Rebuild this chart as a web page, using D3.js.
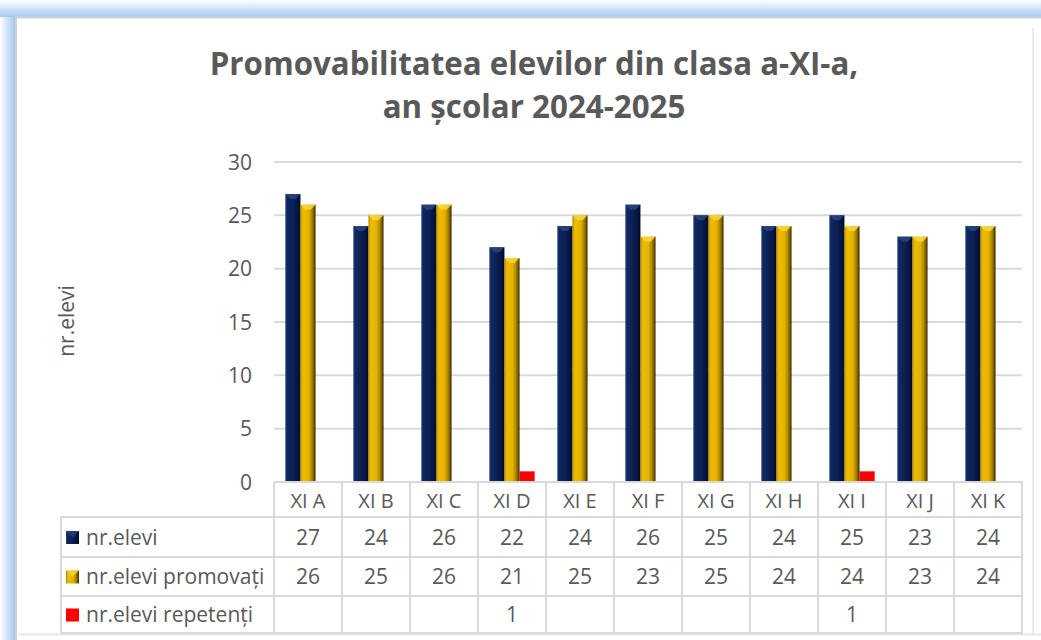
<!DOCTYPE html>
<meta charset="utf-8">
<script src="https://cdn.jsdelivr.net/npm/d3@7"></script>
<style>
  body { margin: 0; background: #fff; }
  text { font-family: "Open Sans", sans-serif; fill: #595959; }
</style>
<div id="vis"></div>
<script>
// data
const categories = ["XI A", "XI B", "XI C", "XI D", "XI E", "XI F", "XI G", "XI H", "XI I", "XI J", "XI K"]
const elevi      = [27, 24, 26, 22, 24, 26, 25, 24, 25, 23, 24]
const promovati  = [26, 25, 26, 21, 25, 23, 25, 24, 24, 23, 24]
const repetenti  = [null, null, null, 1, null, null, null, null, 1, null, null]
const seriesNames = ["nr.elevi", "nr.elevi promovați", "nr.elevi repetenți"]
const yTicks = [0, 5, 10, 15, 20, 25, 30]

const W = 1041, H = 640
const plot = {left: 274, right: 1022, top: 162, bottom: 482}
const rowH = [35, 40, 39, 37]   // header row, then one row per series
const legendLeft = 61

const svg = d3.select("#vis").append("svg").attr("width", W).attr("height", H)
const defs = svg.append("defs")

// frame glow
const gTop = defs.append("linearGradient").attr("id", "glowTop").attr("x1", 0).attr("y1", 0).attr("x2", 0).attr("y2", 1)
gTop.append("stop").attr("offset", "0%").attr("stop-color", "#ffffff")
gTop.append("stop").attr("offset", "100%").attr("stop-color", "#a4c6f1")
const gLeft = defs.append("linearGradient").attr("id", "glowLeft").attr("x1", 0).attr("y1", 0).attr("x2", 1).attr("y2", 0)
gLeft.append("stop").attr("offset", "0%").attr("stop-color", "#ffffff")
gLeft.append("stop").attr("offset", "100%").attr("stop-color", "#a4c6f1")

svg.append("rect").attr("x", 0).attr("y", 0).attr("width", W).attr("height", 17).attr("fill", "url(#glowTop)")
svg.append("rect").attr("x", 0).attr("y", 17).attr("width", 15).attr("height", H - 17).attr("fill", "url(#glowLeft)")
svg.append("line").attr("x1", 15).attr("x2", W).attr("y1", 17.5).attr("y2", 17.5).attr("stroke", "#d2d2d2").attr("stroke-width", 2)
svg.append("line").attr("x1", 16).attr("x2", 16).attr("y1", 17).attr("y2", H).attr("stroke", "#cfcfcf").attr("stroke-width", 2)
svg.append("line").attr("x1", 19).attr("x2", W).attr("y1", 634.5).attr("y2", 634.5).attr("stroke", "#e6e6e6").attr("stroke-width", 2)
svg.append("line").attr("x1", 1033).attr("x2", 1033).attr("y1", 28).attr("y2", 634).attr("stroke", "#ececec").attr("stroke-width", 2)

// bar gradients
function hGrad(id, stops) {
  const g = defs.append("linearGradient").attr("id", id).attr("x1", 0).attr("y1", 0).attr("x2", 1).attr("y2", 0)
  stops.forEach(s => g.append("stop").attr("offset", s[0]).attr("stop-color", s[1]))
}
hGrad("navy", [["0%", "#223f7c"], ["12%", "#0f2761"], ["55%", "#0b1f52"], ["85%", "#07133a"], ["100%", "#030920"]])
hGrad("gold", [["0%", "#b08400"], ["15%", "#eebd00"], ["55%", "#e3b200"], ["80%", "#a07a00"], ["100%", "#3a2a00"]])
const fills = ["url(#navy)", "url(#gold)", "#ff0000"]
const tops = ["#27457f", "#ffd53a", null]

// scales
const y = d3.scaleLinear().domain([0, 30]).range([plot.bottom, plot.top])
const x0 = d3.scaleBand().domain(categories).range([plot.left, plot.right])
const x1 = d3.scaleBand().domain(seriesNames).range([0, x0.bandwidth()]).paddingOuter(0.75)

// title
const title = svg.append("text").attr("x", 534).attr("text-anchor", "middle")
  .style("font-size", "31.3px").style("font-weight", "bold")
title.append("tspan").attr("x", 534).attr("y", 75).text("Promovabilitatea elevilor din clasa a-XI-a,")
title.append("tspan").attr("x", 534).attr("y", 118).text("an școlar 2024-2025")

// y axis label
svg.append("text").attr("transform", "translate(74,321) rotate(-90)").attr("text-anchor", "middle")
  .style("font-size", "21px").text("nr.elevi")

// grid + y tick labels
svg.append("g").selectAll("line").data(yTicks).enter().append("line")
  .attr("x1", plot.left).attr("x2", plot.right)
  .attr("y1", d => y(d)).attr("y2", d => y(d))
  .attr("stroke", "#d9d9d9").attr("stroke-width", 2)
svg.append("g").selectAll("text").data(yTicks).enter().append("text")
  .attr("x", 252).attr("y", d => y(d)).attr("dy", "0.36em").attr("text-anchor", "end")
  .style("font-size", "21px").text(d => d)

// bars
const seriesValues = [elevi, promovati, repetenti]
seriesValues.forEach((vals, si) => {
  const bw = x1.bandwidth()
  const g = svg.append("g")
  const data = categories.map((c, i) => ({c: c, v: vals[i]})).filter(d => d.v != null)
  g.selectAll("rect").data(data).enter().append("rect")
    .attr("x", d => x0(d.c) + x1(seriesNames[si]))
    .attr("y", d => y(d.v))
    .attr("width", bw)
    .attr("height", d => y(0) - y(d.v))
    .attr("fill", fills[si])
  if (tops[si]) {
    g.selectAll("path").data(data).enter().append("path")
      .attr("d", d => {
        const bx = x0(d.c) + x1(seriesNames[si]), by = y(d.v)
        return `M${bx},${by}L${bx + bw},${by}L${bx + bw - 5},${by + 5}L${bx + 5},${by + 5}Z`
      })
      .attr("fill", tops[si]).attr("opacity", 0.85)
  }
})

// data table
const tableTop = plot.bottom
const rowY = [tableTop]
rowH.forEach(h => rowY.push(rowY[rowY.length - 1] + h))
const grid = svg.append("g").attr("stroke", "#d9d9d9").attr("stroke-width", 2)
// horizontal lines
rowY.forEach((ry, i) => {
  grid.append("line").attr("x1", i === 0 ? plot.left : legendLeft).attr("x2", plot.right + 1)
    .attr("y1", ry).attr("y2", ry)
})
// vertical lines
const colEdges = categories.map(c => x0(c)).concat([plot.right])
colEdges.forEach(cx => {
  grid.append("line").attr("x1", cx).attr("x2", cx).attr("y1", tableTop).attr("y2", rowY[4])
})
grid.append("line").attr("x1", legendLeft).attr("x2", legendLeft).attr("y1", rowY[1]).attr("y2", rowY[4])

// header
svg.append("g").selectAll("text").data(categories).enter().append("text")
  .attr("x", d => x0(d) + x0.bandwidth() / 2).attr("y", (rowY[0] + rowY[1]) / 2 + 1).attr("dy", "0.36em")
  .attr("text-anchor", "middle").style("font-size", "20px").text(d => d)

// rows
seriesValues.forEach((vals, si) => {
  const cy = (rowY[si + 1] + rowY[si + 2]) / 2
  svg.append("g").selectAll("text").data(vals.map((v, i) => ({c: categories[i], v: v})).filter(d => d.v != null))
    .enter().append("text")
    .attr("x", d => x0(d.c) + x0.bandwidth() / 2).attr("y", cy).attr("dy", "0.36em")
    .attr("text-anchor", "middle").style("font-size", "21px").text(d => d.v)
  svg.append("rect").attr("x", 66).attr("y", cy - 6).attr("width", 13).attr("height", 13).attr("fill", fills[si])
  if (tops[si]) {
    svg.append("path").attr("d", `M66,${cy - 6}L79,${cy - 6}L72.5,${cy + 0.5}Z`).attr("fill", tops[si]).attr("opacity", 0.8)
  }
  svg.append("text").attr("x", 86).attr("y", cy).attr("dy", "0.36em").style("font-size", "21px").text(seriesNames[si])
})
</script>
